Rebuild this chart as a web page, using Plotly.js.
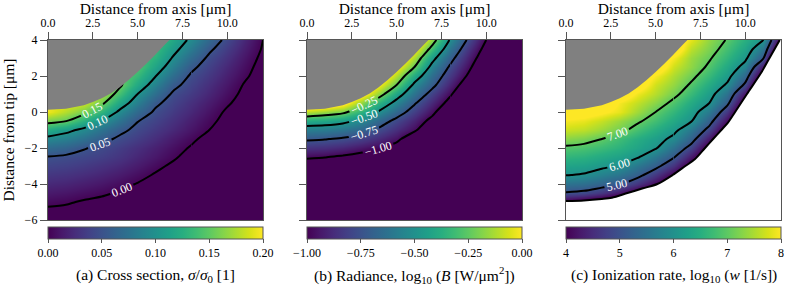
<!DOCTYPE html>
<html><head><meta charset="utf-8">
<script src="https://cdn.plot.ly/plotly-3.0.1.min.js"></script>
<style>body{margin:0;background:#fff;} #chart{width:789px;height:287px;}</style>
</head><body><div id="chart"></div>
<script>
// ---- grid (µm) ----
const xGrid = [0,1,2,3,4,5,6,7,8,9,10,11,12];
const yGrid = [-6,-5.5,-5,-4.5,-4,-3.5,-3,-2.5,-2,-1.5,-1,-0.5,0,0.5,1,1.5,2,2.5,3,3.5,4];

// ---- (a) cross section sigma/sigma0, rows from y=-6 to y=4 ----
const zCross = [
[-0.012,-0.013,-0.015,-0.018,-0.022,-0.026,-0.03,-0.03,-0.03,-0.03,-0.03,-0.03,-0.03],
[-0.004,-0.005,-0.008,-0.011,-0.015,-0.02,-0.025,-0.03,-0.03,-0.03,-0.03,-0.03,-0.03],
[0.0046,0.0023,-0.002,-0.005,-0.01,-0.015,-0.02,-0.025,-0.03,-0.03,-0.03,-0.03,-0.03],
[0.0135,0.011,0.007,0.0032,-0.002,-0.008,-0.014,-0.02,-0.025,-0.03,-0.03,-0.03,-0.03],
[0.0223,0.020,0.0159,0.0115,0.0057,-0.001,-0.008,-0.015,-0.022,-0.027,-0.03,-0.03,-0.03],
[0.031,0.0288,0.0247,0.020,0.014,0.0066,-0.002,-0.01,-0.018,-0.024,-0.028,-0.03,-0.03],
[0.040,0.0376,0.0336,0.028,0.022,0.014,0.005,-0.004,-0.012,-0.02,-0.025,-0.03,-0.03],
[0.049,0.046,0.042,0.037,0.030,0.021,0.012,0.003,-0.008,-0.016,-0.022,-0.027,-0.03],
[0.069,0.063,0.052,0.044,0.035,0.026,0.017,0.0077,-0.002,-0.01,-0.018,-0.025,-0.03],
[0.091,0.085,0.073,0.058,0.045,0.035,0.0245,0.014,0.004,-0.007,-0.015,-0.022,-0.028],
[0.122,0.108,0.093,0.075,0.057,0.043,0.032,0.022,0.011,0,-0.01,-0.018,-0.025],
[0.159,0.151,0.126,0.099,0.075,0.051,0.039,0.028,0.016,0.0045,-0.006,-0.015,-0.022],
[0.195,0.177,0.159,0.130,0.094,0.067,0.046,0.034,0.022,0.0096,-0.003,-0.012,-0.02],
[0.2,0.195,0.185,0.156,0.117,0.084,0.055,0.040,0.027,0.015,0.0025,-0.008,-0.018],
[0.2,0.2,0.19,0.175,0.139,0.10,0.071,0.046,0.034,0.021,0.0075,-0.005,-0.015],
[0.2,0.2,0.19,0.175,0.155,0.119,0.086,0.057,0.040,0.026,0.012,-0.002,-0.015],
[0.2,0.195,0.185,0.17,0.155,0.133,0.101,0.071,0.046,0.032,0.017,0.003,-0.01],
[0.2,0.195,0.19,0.175,0.16,0.145,0.115,0.085,0.056,0.038,0.022,0.007,-0.008],
[0.2,0.2,0.19,0.18,0.16,0.145,0.127,0.097,0.069,0.045,0.028,0.011,-0.005],
[0.2,0.2,0.2,0.19,0.17,0.155,0.135,0.109,0.082,0.055,0.035,0.016,-0.002],
[0.2,0.2,0.2,0.2,0.18,0.165,0.145,0.119,0.094,0.067,0.043,0.021,0.0]
];

// ---- (b) radiance log10(B), rows from y=-6 to y=4 ----
const zRadiance = [
[-1.3,-1.3,-1.3,-1.3,-1.3,-1.3,-1.3,-1.3,-1.3,-1.3,-1.3,-1.3,-1.3],
[-1.3,-1.3,-1.3,-1.3,-1.3,-1.3,-1.3,-1.3,-1.3,-1.3,-1.3,-1.3,-1.3],
[-1.3,-1.3,-1.3,-1.3,-1.3,-1.3,-1.3,-1.3,-1.3,-1.3,-1.3,-1.3,-1.3],
[-1.25,-1.26,-1.27,-1.28,-1.3,-1.3,-1.3,-1.3,-1.3,-1.3,-1.3,-1.3,-1.3],
[-1.2,-1.21,-1.22,-1.24,-1.27,-1.3,-1.3,-1.3,-1.3,-1.3,-1.3,-1.3,-1.3],
[-1.14,-1.15,-1.17,-1.19,-1.22,-1.26,-1.3,-1.3,-1.3,-1.3,-1.3,-1.3,-1.3],
[-1.07,-1.08,-1.1,-1.12,-1.15,-1.2,-1.26,-1.3,-1.3,-1.3,-1.3,-1.3,-1.3],
[-0.983,-0.995,-1.02,-1.05,-1.09,-1.14,-1.22,-1.28,-1.3,-1.3,-1.3,-1.3,-1.3],
[-0.858,-0.87,-0.898,-0.943,-0.99,-1.07,-1.18,-1.26,-1.3,-1.3,-1.3,-1.3,-1.3],
[-0.729,-0.744,-0.77,-0.816,-0.884,-0.96,-1.12,-1.22,-1.3,-1.3,-1.3,-1.3,-1.3],
[-0.58,-0.591,-0.622,-0.676,-0.775,-0.875,-0.975,-1.15,-1.25,-1.3,-1.3,-1.3,-1.3],
[-0.399,-0.414,-0.453,-0.539,-0.668,-0.793,-0.911,-1.048,-1.2,-1.28,-1.3,-1.3,-1.3],
[-0.107,-0.154,-0.214,-0.35,-0.516,-0.672,-0.821,-0.964,-1.15,-1.25,-1.3,-1.3,-1.3],
[0.2,0.15,0.057,-0.162,-0.365,-0.554,-0.734,-0.889,-1.054,-1.2,-1.3,-1.3,-1.3],
[0.2,0.2,0.15,0.065,-0.168,-0.421,-0.629,-0.808,-0.979,-1.176,-1.26,-1.3,-1.3],
[0.2,0.2,0.2,0.15,-0.01,-0.25,-0.535,-0.711,-0.902,-1.1,-1.22,-1.3,-1.3],
[0.2,0.2,0.2,0.2,0.13,-0.123,-0.406,-0.641,-0.835,-1.02,-1.2,-1.28,-1.3],
[0.2,0.2,0.2,0.2,0.15,0.01,-0.25,-0.555,-0.773,-0.962,-1.16,-1.25,-1.3],
[0.2,0.2,0.2,0.2,0.2,0.14,-0.135,-0.449,-0.70,-0.907,-1.106,-1.22,-1.3],
[0.2,0.2,0.2,0.2,0.2,0.15,0.0,-0.309,-0.6125,-0.845,-1.054,-1.2,-1.28],
[0.2,0.2,0.2,0.2,0.2,0.2,0.15,-0.173,-0.518,-0.773,-1.0,-1.15,-1.25]
];

// ---- (c) ionization rate log10(w), rows from y=-6 to y=4 ----
const zIonization = [
[2.5,2.5,2.5,2.5,2.5,2.5,2.5,2.5,2.5,2.5,2.5,2.5,2.5],
[2.5,2.5,2.5,2.5,2.5,2.5,2.5,2.5,2.5,2.5,2.5,2.5,2.5],
[3.87,3.7,3.5,3.2,2.8,2.5,2.5,2.5,2.5,2.5,2.5,2.5,2.5],
[4.96,4.86,4.6,4.22,3.71,3.2,2.8,2.5,2.5,2.5,2.5,2.5,2.5],
[5.5,5.44,5.27,5.05,4.58,4.05,3.5,3.0,2.5,2.5,2.5,2.5,2.5],
[6.02,5.95,5.73,5.53,5.19,4.61,3.95,3.2,2.7,2.5,2.5,2.5,2.5],
[6.31,6.26,6.12,5.96,5.57,5.18,4.55,3.72,3.0,2.5,2.5,2.5,2.5],
[6.61,6.55,6.41,6.27,6.05,5.58,5.06,4.26,3.42,2.8,2.5,2.5,2.5],
[6.91,6.84,6.71,6.55,6.32,6.05,5.47,4.78,3.75,3.0,2.5,2.5,2.5],
[7.29,7.19,7.0,6.74,6.47,6.21,5.87,5.24,4.25,3.06,2.5,2.5,2.5],
[7.68,7.6,7.4,7.15,6.8,6.48,6.15,5.6,4.8,3.61,3.0,2.5,2.5],
[7.95,7.87,7.65,7.38,7.08,6.77,6.4,6.03,5.23,4.12,2.9,2.5,2.5],
[8.3,8.25,8.08,7.85,7.42,7.0,6.63,6.23,5.63,4.63,3.2,2.8,2.5],
[8.5,8.5,8.4,7.95,7.62,7.28,6.87,6.44,6.0,5.15,3.66,3.0,2.5],
[8.5,8.5,8.5,8.4,7.9,7.55,7.15,6.70,6.22,5.51,4.19,2.3,2.0],
[8.5,8.5,8.5,8.5,8.3,7.7,7.35,6.92,6.45,5.92,4.88,2.88,2.5],
[8.5,8.5,8.5,8.5,8.4,7.95,7.5,7.13,6.69,6.19,5.34,3.6,3.0],
[8.5,8.5,8.5,8.5,8.5,8.4,7.7,7.33,6.9,6.41,5.79,4.22,1.5],
[8.5,8.5,8.5,8.5,8.5,8.4,7.95,7.4,7.06,6.62,6.12,5.09,2.1],
[8.5,8.5,8.5,8.5,8.5,8.5,8.4,7.6,7.22,6.8,6.33,5.56,3.2],
[8.5,8.5,8.5,8.5,8.5,8.5,8.4,7.85,7.35,6.96,6.52,6.06,3.8]
];

// ---- tip surface (gray) and validity edge of panel (c) ----
const tipX = [0,1,2,2.5,3,3.5,4,4.5,5,5.5,6,6.5,6.78];
const tipY = [0.12,0.18,0.38,0.55,0.76,1.03,1.38,1.78,2.22,2.7,3.2,3.72,4.0];
const edgeX = [0,1,2,2.56,3.43,4.3,5.1,5.95,6.66,7.19,7.76,8.21,8.67,9.04,9.44,10.1,10.9,11.36,11.93];
const edgeY = [-4.94,-4.91,-4.83,-4.76,-4.5,-4.24,-4.0,-3.5,-3.0,-2.63,-2.0,-1.5,-1.0,-0.59,0,1.0,2.19,3.0,4.0];

// ---- contour levels and colour ranges ----
const levelsCross = [0, 0.05, 0.10, 0.15];
const levelsRadiance = [-1, -0.75, -0.5, -0.25];
const levelsIonization = [5, 6, 7];
const rangeCross = [0, 0.2], rangeRadiance = [-1, 0], rangeIonization = [4, 8];
const cbTicksCross = [0, 0.05, 0.10, 0.15, 0.20];
const cbTextCross = ['0.00','0.05','0.10','0.15','0.20'];
const cbTicksRadiance = [-1, -0.75, -0.5, -0.25, 0];
const cbTextRadiance = ['\u22121.00','\u22120.75','\u22120.50','\u22120.25','0.00'];
const cbTicksIonization = [4,5,6,7,8];
const cbTextIonization = ['4','5','6','7','8'];
const xTicks = [0,2.5,5,7.5,10];
const xTickText = ['0.0','2.5','5.0','7.5','10.0'];
const yTicks = [-6,-4,-2,0,2,4];
const xRange = [0,12], yRange = [-6,4];
const titles = [
  '(a) Cross section, <i>σ</i>/<i>σ</i><sub>0</sub> [1]',
  '(b) Radiance, log<sub>10</sub> (<i>B</i> [W/μm<sup>2</sup>])',
  '(c) Ionization rate, log<sub>10</sub> (<i>w</i> [1/s])'
];

const FONT = 'Liberation Serif, Times New Roman, serif';
const W = 789, H = 287, ML = 48, MR = 8, MT = 40, MB = 67;
const PW = W - ML - MR, PH = H - MT - MB;
const panelLeft = [48, 307, 566], panelW = 215;
const dom = panelLeft.map(l => [(l - ML) / PW, (l - ML + panelW) / PW]);
// column index up to which the labelled part of the contours extends
const labelSplit = [8, 8, 6];

const panels = [
  {z: zCross, lv: levelsCross, rg: rangeCross, tv: cbTicksCross, tt: cbTextCross},
  {z: zRadiance, lv: levelsRadiance, rg: rangeRadiance, tv: cbTicksRadiance, tt: cbTextRadiance},
  {z: zIonization, lv: levelsIonization, rg: rangeIonization, tv: cbTicksIonization, tt: cbTextIonization}
];
const axN = i => (i === 0 ? '' : String(i + 1));

const traces = [];
panels.forEach((p, i) => {
  traces.push({
    type: 'heatmap', x: xGrid, y: yGrid, z: p.z, zsmooth: 'best',
    colorscale: 'Viridis', zmin: p.rg[0], zmax: p.rg[1], xaxis: 'x' + axN(i), yaxis: 'y' + axN(i), hoverinfo: 'skip',
    colorbar: {
      orientation: 'h', thickness: 12, thicknessmode: 'pixels', len: panelW, lenmode: 'pixels',
      x: dom[i][0], xanchor: 'left', y: -7 / PH, yanchor: 'top', xpad: 0, ypad: 0,
      outlinewidth: 1, outlinecolor: '#555', ticks: 'outside', ticklen: 4, tickcolor: '#555',
      tickmode: 'array', tickvals: p.tv, ticktext: p.tt, tickfont: {family: FONT, size: 12, color: '#000'}
    }
  });
});
const lineStyle = {color: 'black', width: 2, smoothing: 0.8};
panels.forEach((p, i) => {
  const k = labelSplit[i];
  const xL = xGrid.slice(0, k + 1), zL = p.z.map(r => r.slice(0, k + 1));
  const xR = xGrid.slice(k), zR = p.z.map(r => r.slice(k));
  const step = p.lv[1] - p.lv[0];
  // left part: one labelled trace per level, so each label is placed on its own
  p.lv.forEach(L => {
    traces.push({
      type: 'contour', x: xL, y: yGrid, z: zL, autocontour: false, showscale: false,
      contours: {coloring: 'none', start: L, end: L, size: step, showlabels: true,
        labelformat: '.2f', labelfont: {family: FONT, size: 12, color: 'white'}},
      line: lineStyle, xaxis: 'x' + axN(i), yaxis: 'y' + axN(i), hoverinfo: 'skip'
    });
  });
  // right part: unlabelled
  traces.push({
    type: 'contour', x: xR, y: yGrid, z: zR, autocontour: false, showscale: false,
    contours: {coloring: 'none', start: p.lv[0], end: p.lv[p.lv.length - 1], size: step, showlabels: false},
    line: lineStyle, xaxis: 'x' + axN(i), yaxis: 'y' + axN(i), hoverinfo: 'skip'
  });
});
// gray tip in each panel
[0,1,2].forEach(i => {
  traces.push({
    type: 'scatter', mode: 'none', fill: 'toself', fillcolor: '#808080',
    x: tipX.concat([tipX[0]]), y: tipY.concat([tipY[tipY.length - 1]]),
    xaxis: 'x' + axN(i), yaxis: 'y' + axN(i), hoverinfo: 'skip'
  });
});
// invalid region of panel (c) and its boundary line
traces.push({
  type: 'scatter', mode: 'none', fill: 'toself', fillcolor: '#ffffff',
  x: edgeX.concat([xRange[1], xRange[1], xRange[0]]),
  y: edgeY.concat([yRange[1], yRange[0], yRange[0]]),
  xaxis: 'x3', yaxis: 'y3', hoverinfo: 'skip'
});
traces.push({
  type: 'scatter', mode: 'lines', x: edgeX, y: edgeY,
  line: {color: 'black', width: 2, shape: 'spline', smoothing: 0.8},
  xaxis: 'x3', yaxis: 'y3', hoverinfo: 'skip'
});

function axX(i) {
  return {
    domain: dom[i], anchor: 'y' + axN(i), range: xRange, side: 'top',
    tickmode: 'array', tickvals: xTicks, ticktext: xTickText, ticks: 'outside', ticklen: 7,
    tickwidth: 1, tickcolor: '#555', showline: true, linecolor: '#555', linewidth: 1.2, mirror: true,
    showgrid: false, zeroline: false, tickfont: {family: FONT, size: 12},
    title: {text: 'Distance from axis [μm]', font: {family: FONT, size: 15.5}, standoff: 4}
  };
}
function axY(i) {
  const a = {
    domain: [0, 1], anchor: 'x' + axN(i), range: yRange,
    tickmode: 'array', tickvals: yTicks, ticks: 'outside', ticklen: 7, tickwidth: 1, tickcolor: '#555',
    showline: true, linecolor: '#555', linewidth: 1.2, mirror: true, showgrid: false, zeroline: false,
    tickfont: {family: FONT, size: 12}, showticklabels: i === 0
  };
  if (i === 0) a.title = {text: 'Distance from tip [μm]', font: {family: FONT, size: 15.5}, standoff: 6};
  return a;
}

const layout = {
  width: W, height: H, margin: {l: ML, r: MR, t: MT, b: MB, autoexpand: false},
  paper_bgcolor: 'white', plot_bgcolor: 'white', showlegend: false, hovermode: false,
  font: {family: FONT, size: 12, color: '#000'},
  xaxis: axX(0), xaxis2: axX(1), xaxis3: axX(2),
  yaxis: axY(0), yaxis2: axY(1), yaxis3: axY(2),
  annotations: titles.map((t, i) => ({
    text: t, xref: 'paper', yref: 'paper', x: (dom[i][0] + dom[i][1]) / 2, y: -55 / PH,
    xanchor: 'center', yanchor: 'middle', showarrow: false, font: {family: FONT, size: 15.5, color: '#000'}
  }))
};

Plotly.newPlot('chart', traces, layout, {staticPlot: true, displayModeBar: false});
</script>
</body></html>
